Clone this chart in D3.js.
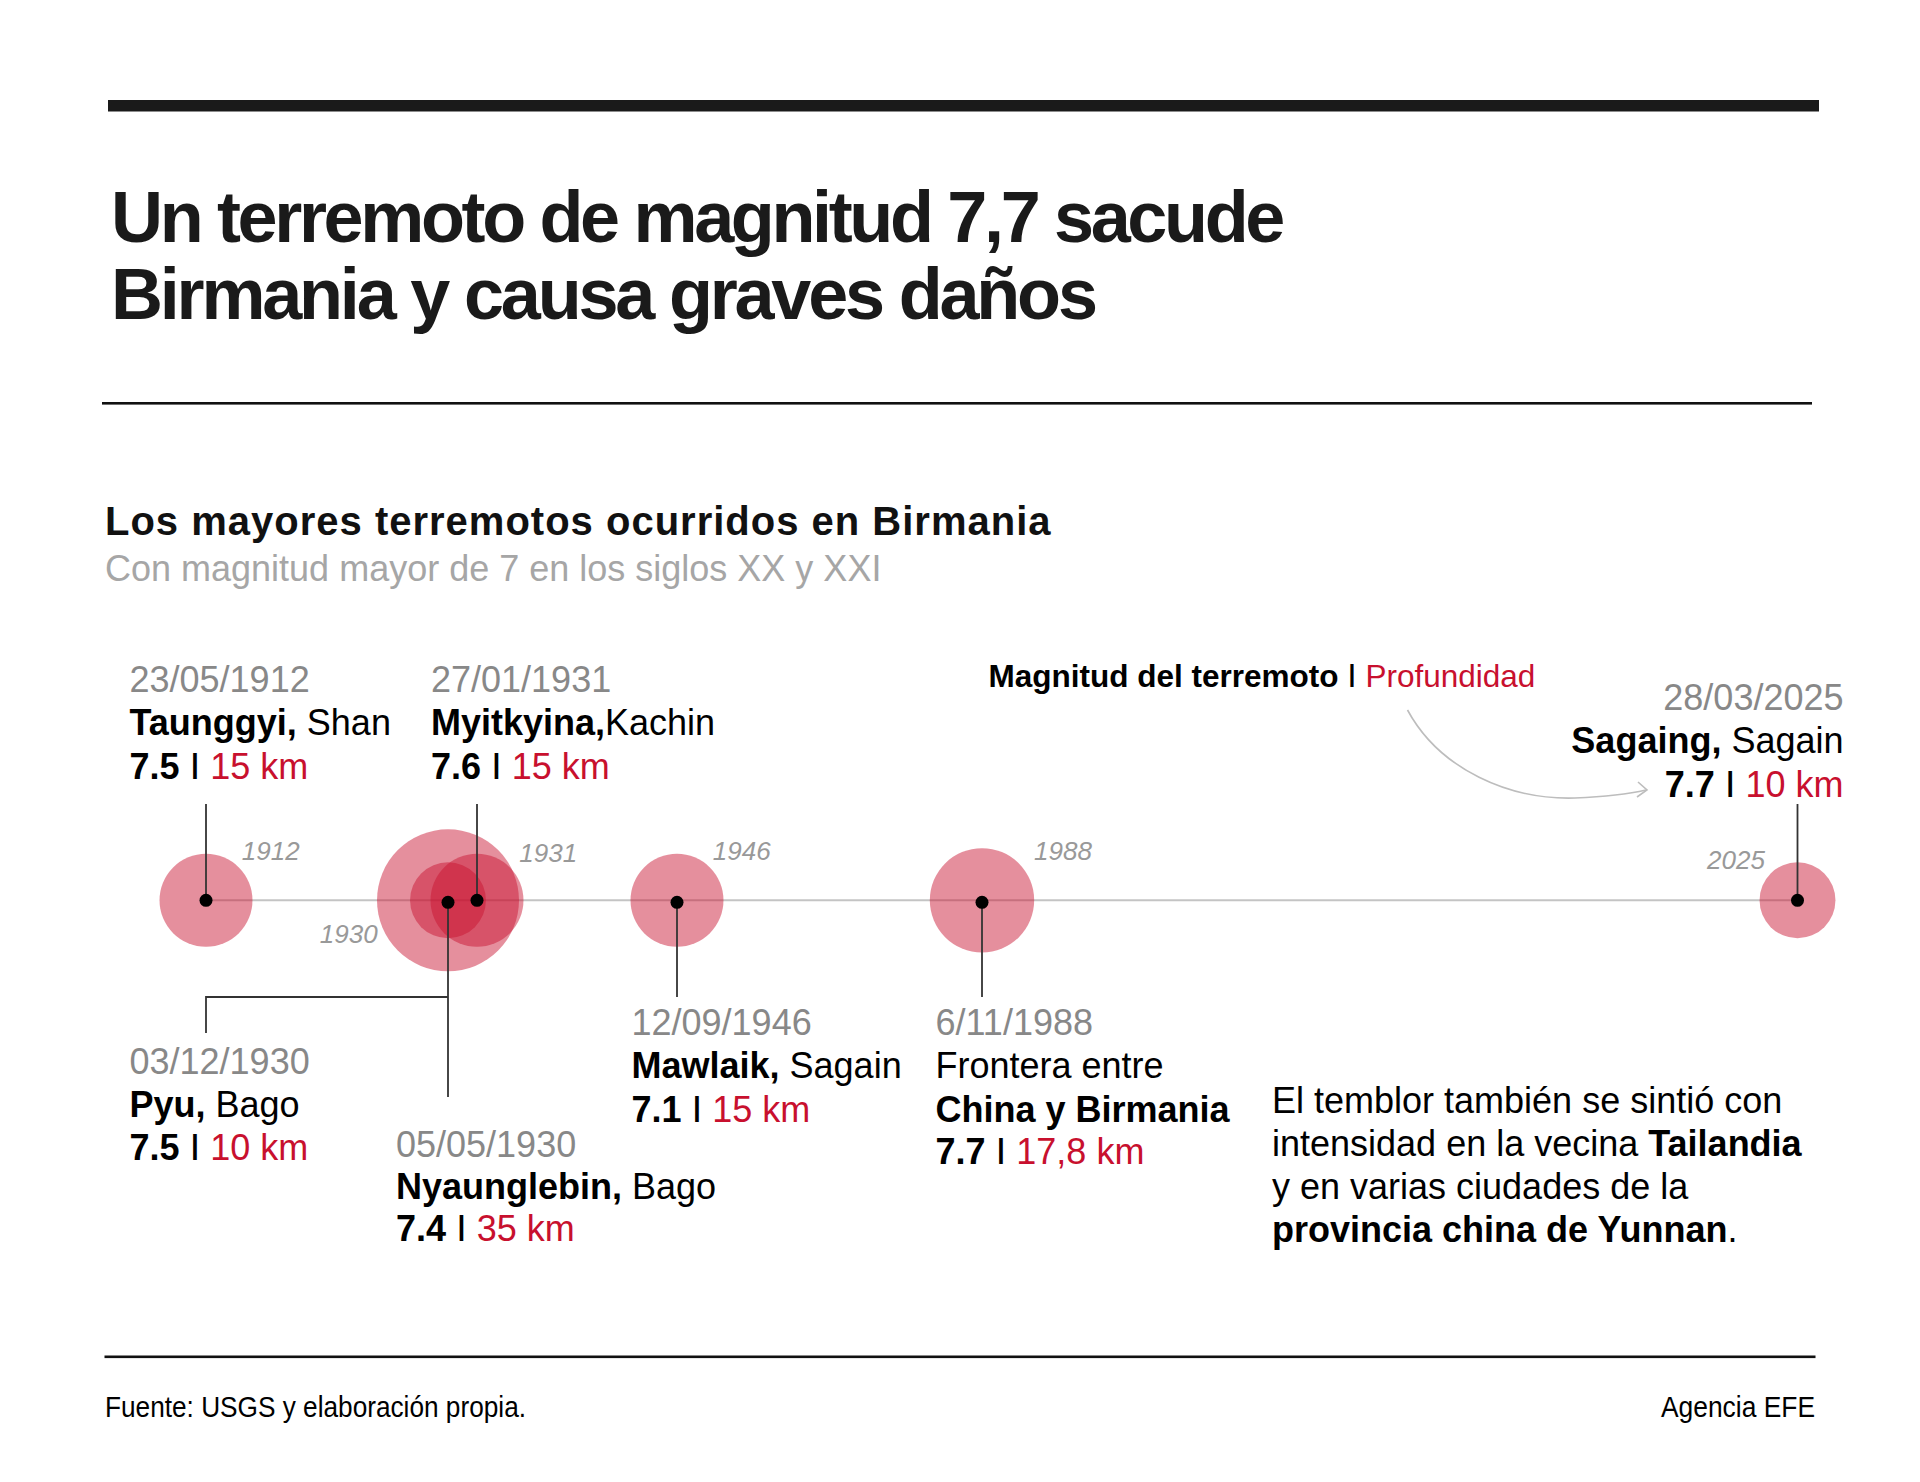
<!DOCTYPE html>
<html><head><meta charset="utf-8">
<script src="https://cdn.jsdelivr.net/npm/d3@7"></script>
<style>html,body{margin:0;background:#fff}svg{display:block}text{font-family:"Liberation Sans",Arial,sans-serif}</style>
</head><body><div id="c"></div>
<script>
// ---- data ----
const years   = [1912, 1930, 1930, 1931, 1946, 1988, 2025];
const dates   = ["23/05/1912","05/05/1930","03/12/1930","27/01/1931","12/09/1946","6/11/1988","28/03/2025"];
const places  = ["Taunggyi,","Nyaunglebin,","Pyu,","Myitkyina,","Mawlaik,","","Sagaing,"];
const regions = [" Shan"," Bago"," Bago","Kachin"," Sagain","Frontera entre"," Sagain"];
const mags    = ["7.5","7.4","7.5","7.6","7.1","7.7","7.7"];
const depthLabels = ["15 km","35 km","10 km","15 km","15 km","17,8 km","10 km"];
const bubbleDepths = [15, 35, 10, 15, 15, 18.9, 10];
const yearTicks = [1912, 1930, 1931, 1946, 1988, 2025];

// ---- layout ----
const W = 1920, H = 1482, axisY = 900.3;
const x = d3.scaleLinear().domain(yearTicks).range([206, 448, 477, 677, 982, 1797.5]);
const r = d3.scaleSqrt().domain([0, 35]).range([0, 71]);
const labelPos = [
  {x:129.5, y:691.6, dy:43.5, leader:[804,900]},
  {x:396, y:1156.6, dy:42.3, leader:[902,1097]},
  {x:129.5, y:1074.1, dy:42.8, path:[[448,997],[206,997],[206,1033]]},
  {x:431, y:691.6, dy:43.5, leader:[804,900]},
  {x:631.5, y:1034.6, dy:43.8, leader:[902,997]},
  {x:935.5, y:1034.6, dy:43.8, leader:[902,997]},
  {x:1843.5, y:709.6, dy:43.5, leader:[804,900], anchor:"end"}
];
const tickPos = [{dx:35.8,y:860},{dx:-128.2,y:943},{dx:42.3,y:861.5},{dx:35.8,y:860},{dx:52,y:860},{dx:-90.5,y:868.5}];
const RED = "#c8102e", INK = "#1a1a1a";

const svg = d3.select("#c").append("svg").attr("width",W).attr("height",H);
const txt = (t,xx,yy,size,opt={}) => {
  const s = svg.append("text").attr("x",xx).attr("y",yy).attr("font-size",size)
  .attr("fill",opt.fill||"#000").attr("font-weight",opt.bold?700:400).attr("font-style",opt.italic?"italic":null)
  .attr("text-anchor",opt.anchor||"start").attr("letter-spacing",opt.ls||0).attr("xml:space","preserve").text(t);
  if(opt.len) s.attr("textLength",opt.len).attr("lengthAdjust","spacingAndGlyphs");
  return s;
};
// "value | depth" separator: short bar sitting on the baseline
const sep = (t,size) => {
  const drop = size*.165;
  t.append("tspan").text(" ");
  t.append("tspan").attr("font-size",size*.78).attr("font-weight",700).attr("dx",size*.04).attr("dy",-drop).text("|");
  t.append("tspan").attr("dx",size*.04).attr("dy",drop).text(" ");
};

// rules
svg.append("rect").attr("x",108).attr("y",100).attr("width",1711).attr("height",11.5).attr("fill",INK);
svg.append("rect").attr("x",102).attr("y",402).attr("width",1710).attr("height",2.6).attr("fill","#111");
svg.append("rect").attr("x",104.5).attr("y",1355.5).attr("width",1711).attr("height",2.6).attr("fill","#111");

// headings
txt("Un terremoto de magnitud 7,7 sacude",111,242,72,{bold:true,fill:INK,ls:-3.35});
txt("Birmania y causa graves daños",111,319,72,{bold:true,fill:INK,ls:-3.2});
txt("Los mayores terremotos ocurridos en Birmania",105,535,40,{bold:true,fill:"#111",ls:1});
txt("Con magnitud mayor de 7 en los siglos XX y XXI",105,580.5,36,{fill:"#a6a6a6"});
txt("Fuente: USGS y elaboración propia.",105,1416.5,30,{len:421});
txt("Agencia EFE",1661,1416.5,30,{len:154});

// timeline
svg.append("line").attr("x1",x(1912)).attr("x2",x(2025)).attr("y1",axisY).attr("y2",axisY).attr("stroke","#c4c4c4").attr("stroke-width",2);
svg.selectAll("circle.bubble").data(years.map((y,i)=>({y,d:bubbleDepths[i]}))).join("circle").attr("class","bubble")
  .attr("cx",d=>x(d.y)).attr("cy",axisY).attr("r",d=>r(d.d)).attr("fill",RED).attr("fill-opacity",.47);

// leaders
labelPos.forEach((p,i)=>{
  if(p.leader) svg.append("line").attr("x1",x(years[i])).attr("x2",x(years[i])).attr("y1",p.leader[0]).attr("y2",p.leader[1]).attr("stroke","#333").attr("stroke-width",1.8);
  if(p.path) svg.append("path").attr("d",d3.line()(p.path)).attr("fill","none").attr("stroke","#333").attr("stroke-width",1.8);
});
// dots
const downward = {1930:1,1946:1,1988:1};
svg.selectAll("circle.dot").data(yearTicks).join("circle").attr("class","dot")
  .attr("cx",d=>x(d)).attr("cy",d=>axisY+(downward[d]?2:0)).attr("r",6.5).attr("fill","#000");

// year ticks
yearTicks.forEach((y,i)=>txt(y,x(y)+tickPos[i].dx,tickPos[i].y,26,{italic:true,fill:"#999"}));

// labels
const FS = 36;
years.forEach((y,i)=>{
  const p = labelPos[i], a = p.anchor||"start";
  txt(dates[i],p.x,p.y,FS,{fill:"#888",anchor:a});
  const name = svg.append("text").attr("x",p.x).attr("y",p.y+p.dy).attr("font-size",FS).attr("text-anchor",a).attr("xml:space","preserve");
  name.append("tspan").attr("font-weight",700).text(places[i]);
  name.append("tspan").text(regions[i]);
  let ly = p.y+2*p.dy;
  if(i===5){ txt("China y Birmania",p.x,ly,FS,{bold:true}); ly = p.y+129; }
  const v = svg.append("text").attr("x",p.x).attr("y",ly).attr("font-size",FS).attr("text-anchor",a).attr("xml:space","preserve");
  v.append("tspan").attr("font-weight",700).text(mags[i]);
  sep(v,FS);
  v.append("tspan").attr("fill",RED).text(depthLabels[i]);
});

// legend
const lg = svg.append("text").attr("x",988.5).attr("y",687).attr("font-size",31.5).attr("xml:space","preserve");
lg.append("tspan").attr("font-weight",700).text("Magnitud del terremoto");
sep(lg,31.5);
lg.append("tspan").attr("fill",RED).text("Profundidad");
svg.append("path").attr("d","M1407.5,710C1440,770 1510,800 1575,798C1600,797 1625,795 1646,790")
  .attr("fill","none").attr("stroke","#bdbdbd").attr("stroke-width",1.6);
svg.append("path").attr("d","M1638,782L1647,790L1637,797").attr("fill","none").attr("stroke","#bdbdbd").attr("stroke-width",1.6);

// note
const noteLines = [
  [["El temblor también se sintió con",0]],
  [["intensidad en la vecina ",0],["Tailandia",1]],
  [["y en varias ciudades de la",0]],
  [["provincia china de Yunnan",1],[".",0]]
];
const noteY = [1113,1155.5,1198.5,1242];
noteLines.forEach((runs,i)=>{
  const t = svg.append("text").attr("x",1272).attr("y",noteY[i]).attr("font-size",FS).attr("xml:space","preserve");
  runs.forEach(([s,b])=>t.append("tspan").attr("font-weight",b?700:400).text(s));
});
</script></body></html>
